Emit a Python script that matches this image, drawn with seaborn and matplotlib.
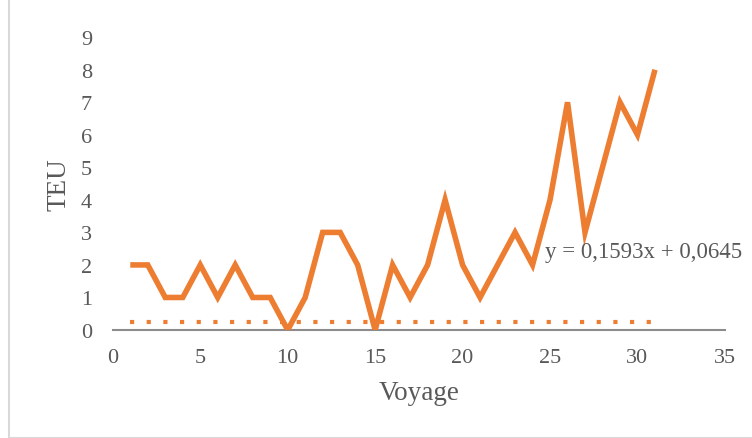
import numpy as np
import pandas as pd
import matplotlib
matplotlib.use('Agg')
import matplotlib.pyplot as plt
import seaborn as sns

# data
voyage = list(range(1, 32))
teu = [2, 2, 1, 1, 2, 1, 2, 1, 1, 0, 1, 3, 3, 2, 0, 2, 1, 2, 4, 2, 1, 2, 3, 2, 4, 7, 3, 5, 7, 6, 8]
trend_x = [1, 31]
trend_y = [0.24, 0.24]
equation = "y = 0,1593x + 0,0645"
x_ticks = [0, 5, 10, 15, 20, 25, 30, 35]
y_ticks = list(range(0, 10))

ORANGE = '#ED7D31'
TEXT = '#595959'

sns.set_style('white')
plt.rcParams['font.family'] = ['Liberation Serif', 'DejaVu Serif']

df = pd.DataFrame({'Voyage': voyage, 'TEU': teu})

fig = plt.figure(figsize=(7.52, 4.39), dpi=100)
ax = fig.add_axes([0.150, 0.246, 0.814, 0.667])

sns.lineplot(data=df, x='Voyage', y='TEU', ax=ax, color=ORANGE, linewidth=4,
             solid_joinstyle='miter', solid_capstyle='butt')
ax.plot(trend_x, trend_y, color=ORANGE, linewidth=3, linestyle=(0, (1, 3)),
        dash_capstyle='butt')

ax.set_xlim(0, 35)
ax.set_ylim(0, 9)
ax.set_xticks(x_ticks)
ax.set_yticks(y_ticks)
ax.tick_params(axis='both', length=0, labelsize=16, labelcolor=TEXT)
ax.tick_params(axis='x', pad=13)
ax.tick_params(axis='y', pad=15)

for s in ['top', 'right', 'left']:
    ax.spines[s].set_visible(False)
ax.spines['bottom'].set_color('#8C8C8C')
ax.spines['bottom'].set_linewidth(1.5)
ax.spines['bottom'].set_zorder(1)

ax.set_xlabel('Voyage', fontsize=19.5, color=TEXT, labelpad=9)
ax.set_ylabel('TEU', fontsize=19.5, color=TEXT, labelpad=7)

ax.text(24.7, 2.42, equation, fontsize=16.5, color=TEXT, va='center', ha='left',
        clip_on=False)

# light chart-area border
fig.patches.append(plt.Rectangle((0.012, 0.0), 0.99, 1.1, transform=fig.transFigure,
                                 fill=False, edgecolor='#D9D9D9', linewidth=1.5))

fig.savefig('out.png', dpi=100)
